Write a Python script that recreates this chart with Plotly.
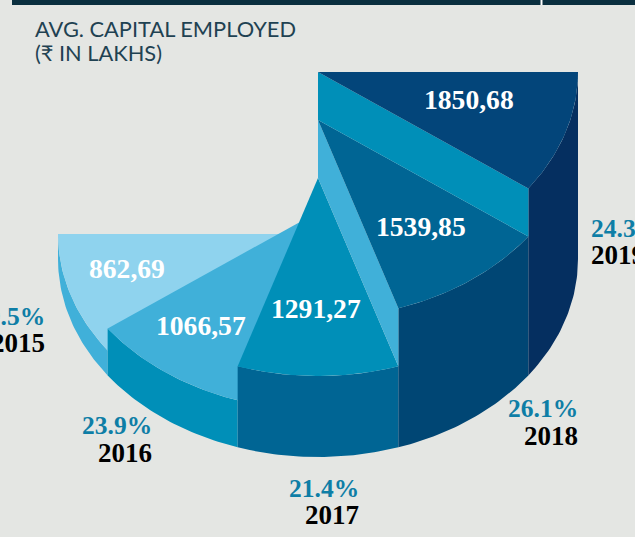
import numpy as np
import plotly.graph_objects as go

years = ["2015", "2016", "2017", "2018", "2019"]
values = ["862,69", "1066,57", "1291,27", "1539,85", "1850,68"]
shares = ["19.5%", "23.9%", "21.4%", "26.1%", "24.3%"]
column_heights = [25, 47, 81, 139, 187]

W, H = 635, 537
CX, CY = 318, 259          # pixel position of the base centre
RX, RY = 260, 198
SWEEP = 180 / len(years)

top_colors = ["#8fd3ee", "#40b0d9", "#008fb8", "#006594", "#03457a"]
side_colors = ["#40b0d9", "#008fb8", "#006594", "#004674", "#052f60"]
wall_colors = [None, None, None, "#40b0d9", "#008fb8"]
BG = "#e4e6e3"
INK = "#1f4252"
TEAL = "#0e7ea6"


def arc(a0, a1, h, n=40):
    a = np.radians(np.linspace(a0, a1, n))
    return RX * np.cos(a), h - RY * np.sin(a)


def poly(xs, ys, color):
    return go.Scatter(x=xs, y=ys, mode="lines", fill="toself", fillcolor=color,
                      line=dict(width=0, color=color), hoverinfo="skip", showlegend=False)


fig = go.Figure()
for i, h in enumerate(column_heights):
    a0 = 180 - SWEEP * i
    a1 = a0 - SWEEP
    # outer curved side
    xt, yt = arc(a0, a1, h)
    xb, yb = arc(a0, a1, 0)
    fig.add_trace(poly(np.r_[xt, xb[::-1]], np.r_[yt, yb[::-1]], side_colors[i]))
    # riser between this column and the previous one
    if wall_colors[i]:
        prev = column_heights[i - 1]
        ex, ey_hi = arc(a0, a0, h, 1)
        _, ey_lo = arc(a0, a0, prev, 1)
        fig.add_trace(poly([0, ex[0], ex[0], 0], [h, ey_hi[0], ey_lo[0], prev], wall_colors[i]))
    # top face
    fig.add_trace(poly(np.r_[0, xt, 0], np.r_[h, yt, h], top_colors[i]))


def px(x):
    return x - CX


def py(y):
    return CY - y


anns = []
SERIF = "Liberation Serif"
value_pos = [(127, 268), (201, 325), (316, 308), (421, 226), (469, 99)]
for txt, (x, y) in zip(values, value_pos):
    anns.append(dict(x=px(x), y=py(y), text=f"<b>{txt}</b>", showarrow=False, xanchor="center", yanchor="middle",
                     font=dict(family=SERIF, size=27.6, color="white")))

share_pos = [(47, 316, "right"), (154, 425, "right"), (361, 488, "right"), (580, 408, "right"), (589, 228, "left")]
year_pos = [(47, 343), (154, 453), (361, 515), (580, 436), (589, 255)]
for s, y, (x, ys, anc), (xy, yy) in zip(shares, years, share_pos, year_pos):
    anns.append(dict(x=px(x), y=py(ys), text=f"<b>{s}</b>", showarrow=False, xanchor=anc, yanchor="middle",
                     font=dict(family=SERIF, size=25.5, color=TEAL)))
    anns.append(dict(x=px(xy), y=py(yy), text=f"<b>{y}</b>", showarrow=False, xanchor=anc, yanchor="middle",
                     font=dict(family=SERIF, size=27, color="black")))

for txt, y in [("AVG. CAPITAL EMPLOYED", 28), ("(₹ IN LAKHS)", 52)]:
    anns.append(dict(x=px(33), y=py(y), text=txt, showarrow=False, xanchor="left", yanchor="middle",
                     font=dict(family="Lato", size=21.8, color=INK)))

fig.update_layout(
    width=W, height=H, margin=dict(l=0, r=0, t=0, b=0, pad=0),
    paper_bgcolor=BG, plot_bgcolor=BG, annotations=anns,
    xaxis=dict(range=[-CX, W - CX], visible=False, fixedrange=True),
    yaxis=dict(range=[CY - H, CY], visible=False, fixedrange=True),
    shapes=[
        dict(type="rect", xref="paper", yref="paper", x0=12 / W, x1=1, y0=1 - 5 / H, y1=1,
             fillcolor="#0a2f3f", line_width=0),
        dict(type="rect", xref="paper", yref="paper", x0=540.5 / W, x1=542.5 / W, y0=1 - 5 / H, y1=1,
             fillcolor="white", line_width=0),
    ],
)
fig.write_html("out.html", config={"displayModeBar": False},
               post_script="document.body.style.margin='0';document.body.style.overflow='hidden';"
                           "document.body.style.background='#e4e6e3';")
